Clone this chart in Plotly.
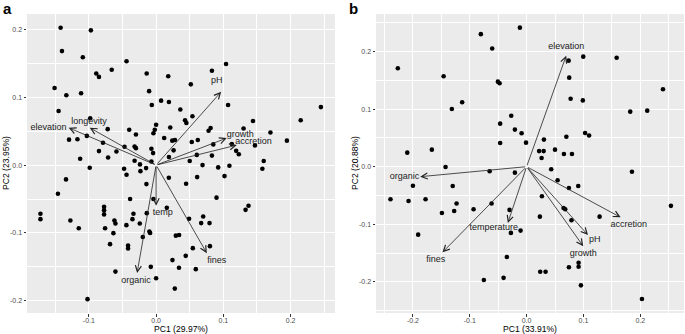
import plotly.graph_objects as go

W, H = 685, 334

# ---------------- Panel a data ----------------
a_pc1 = [-0.142, -0.097, -0.140, -0.109, -0.044, -0.089, -0.085, -0.066, -0.014, 0.018,
         -0.151, -0.1116, -0.1335, -0.0104, -0.0064, 0.0074, 0.019, 0.036, -0.145, -0.098,
         -0.072, -0.040, -0.030, 0.0, -0.002, -0.004, 0.021, 0.012, 0.024, 0.028,
         -0.103, -0.1295, -0.117, -0.079, -0.085, -0.113, -0.0714, -0.059, -0.047, -0.032,
         -0.030, -0.007, -0.0045, -0.032, -0.024, -0.007, 0.019, 0.026,
         0.104, 0.083, 0.0516, 0.107, 0.245, 0.054, 0.043, 0.045, 0.144, 0.215,
         0.081, 0.078, 0.130, 0.170, 0.053, 0.062, 0.085, 0.1126, 0.119, 0.123,
         0.147, 0.1945, 0.0605, 0.083, 0.050, 0.160, 0.069, 0.109,
         -0.0987, -0.0476, -0.044, -0.0233, -0.0149, -0.134, 0.0189, -0.146, -0.0144, -0.0387,
         -0.004, -0.172, -0.172, -0.0774, -0.0774, -0.0774, -0.0337, -0.0139, 0.0159, -0.1275,
         -0.062, -0.0605, -0.0352, -0.0442, -0.0243, -0.115, -0.0759, -0.0635, -0.010, -0.0089,
         -0.0198, 0.0293, 0.0342, -0.0685, -0.0417, -0.0417, 0.0243, 0.034, -0.0079, -0.0605,
         0.0, 0.0278, -0.102,
         0.0923, 0.158, 0.061, 0.1017, 0.0446, 0.0898, 0.133, 0.1374, 0.049, 0.070,
         0.067, 0.0794, 0.0546, 0.080, 0.044, 0.059]
a_pc2 = [0.2025, 0.1986, 0.168, 0.159, 0.153, 0.135, 0.130, 0.1405, 0.135, 0.131,
         0.1136, 0.106, 0.103, 0.109, 0.0885, 0.095, 0.093, 0.082, 0.0797, 0.069,
         0.053, 0.052, 0.045, 0.0594, 0.052, 0.047, 0.0555, 0.040, 0.036, 0.037,
         0.043, 0.0375, 0.038, 0.033, 0.0206, 0.0093, 0.0111, 0.020, 0.027, 0.0275,
         0.025, 0.024, 0.0177, 0.0064, 0.001, 0.0054, 0.012, 0.0217,
         0.149, 0.139, 0.119, 0.0885, 0.0855, 0.072, 0.066, 0.062, 0.065, 0.066,
         0.0546, 0.0506, 0.054, 0.048, 0.034, 0.037, 0.0305, 0.031, 0.021, 0.016,
         0.029, 0.036, 0.015, 0.014, 0.006, 0.006, 0.000, -0.001,
         -0.004, -0.0054, -0.0143, -0.0089, -0.0044, -0.0211, -0.0187, -0.0423, -0.028, -0.050,
         -0.050, -0.0718, -0.0797, -0.0615, -0.0664, -0.0727, -0.0718, -0.0708, -0.063, -0.0816,
         -0.0816, -0.086, -0.0797, -0.0885, -0.086, -0.093, -0.093, -0.1003, -0.098, -0.100,
         -0.106, -0.104, -0.103, -0.1165, -0.1185, -0.123, -0.140, -0.1514, -0.150, -0.157,
         -0.1667, -0.182, -0.1976,
         -0.0034, -0.0054, -0.0177, -0.0162, -0.0275, -0.048, -0.066, -0.060, -0.079, -0.0757,
         -0.0855, -0.0855, -0.1224, -0.1195, -0.1338, -0.1534]

a_vars = ["pH", "growth", "accretion", "elevation", "longevity", "temp", "fines", "organic"]
a_load_x = [0.0967, 0.105, 0.120, -0.130, -0.0987, 0.0, 0.0754, -0.0283]
a_load_y = [0.108, 0.0398, 0.0295, 0.055, 0.055, -0.060, -0.1298, -0.159]
a_lab_x = [0.0903, 0.125, 0.1448, -0.160, -0.0997, 0.010, 0.0903, -0.0298]
a_lab_y = [0.1244, 0.0447, 0.0344, 0.0546, 0.0644, -0.0708, -0.1406, -0.1706]

a_xticks = [-0.1, 0.0, 0.1, 0.2]
a_xtick_text = ["-0.1", "0.0", "0.1", "0.2"]
a_yticks = [-0.2, -0.1, 0.0, 0.1, 0.2]
a_ytick_text = ["-0.2", "-0.1", "0.0", "0.1", "0.2"]
a_xminor = [-0.15, -0.05, 0.05, 0.15, 0.25]
a_yminor = [-0.15, -0.05, 0.05, 0.15]

# ---------------- Panel b data ----------------
b_pc1 = [-0.0118, -0.0805, -0.0605, -0.2266, -0.146, -0.0505, -0.0475, -0.1134, -0.1315, -0.027,
         -0.0465, -0.0206, -0.0088, -0.0465, -0.001, -0.210, -0.1667,
         0.074, 0.0997, 0.1585, 0.075, 0.240, 0.0775, 0.099, 0.1824, 0.2123,
         0.103, 0.110, 0.070, 0.0305, 0.022, 0.030, 0.0264, 0.050, 0.0657, 0.0798,
         -0.1426, -0.065, -0.0206, -0.200, -0.130, -0.2395, -0.2077, -0.1778, -0.1232, -0.0616,
         -0.149, -0.1274, -0.0933, -0.030, -0.1908, -0.0276, -0.0106, -0.0347, -0.0752, -0.0405,
         0.0433, 0.1854, 0.0546, 0.0745, 0.0909, 0.027, 0.254, 0.065, 0.068, 0.0234,
         0.079, 0.1285, 0.024, 0.0334, 0.0745, 0.0915, 0.0915, 0.0956, 0.203]
b_pc2 = [0.2413, 0.230, 0.205, 0.1708, 0.157, 0.1476, 0.1448, 0.1118, 0.100, 0.0885,
         0.0747, 0.0643, 0.058, 0.041, 0.0417, 0.0243, 0.0295,
         0.184, 0.191, 0.189, 0.1545, 0.1343, 0.118, 0.115, 0.0955, 0.0972,
         0.0585, 0.054, 0.052, 0.047, 0.027, 0.027, 0.015, 0.0295, 0.022, 0.022,
         -0.0005, -0.008, -0.0104, -0.033, -0.0335, -0.0566, -0.0596, -0.0566, -0.064, -0.064,
         -0.0804, -0.0769, -0.074, -0.075, -0.118, -0.115, -0.111, -0.1568, -0.1967, -0.193,
         -0.0045, -0.0087, -0.0237, -0.037, -0.0335, -0.0514, -0.068, -0.0717, -0.074, -0.0868,
         -0.093, -0.0868, -0.1823, -0.1823, -0.1747, -0.1667, -0.1736, -0.206, -0.2297]

b_vars = ["elevation", "organic", "temperature", "fines", "accretion", "pH", "growth"]
b_load_x = [0.0697, -0.1873, -0.033, -0.148, 0.1655, 0.108, 0.0997]
b_load_y = [0.1927, -0.0174, -0.0977, -0.1487, -0.088, -0.1186, -0.138]
b_lab_x = [0.0697, -0.2148, -0.0576, -0.160, 0.180, 0.120, 0.0997]
b_lab_y = [0.209, -0.0174, -0.1064, -0.1615, -0.101, -0.126, -0.151]

b_xticks = [-0.2, -0.1, 0.0, 0.1, 0.2]
b_xtick_text = ["-0.2", "-0.1", "0.0", "0.1", "0.2"]
b_yticks = [-0.2, -0.1, 0.0, 0.1, 0.2]
b_ytick_text = ["-0.2", "-0.1", "0.0", "0.1", "0.2"]
b_xminor = [-0.25, -0.15, -0.05, 0.05, 0.15, 0.25]
b_yminor = [-0.25, -0.15, -0.05, 0.05, 0.15, 0.25]

FONT = "Liberation Sans, Arial, Helvetica, sans-serif"
BG = "#EBEBEB"

fig = go.Figure()

fig.add_trace(go.Scatter(x=a_pc1, y=a_pc2, mode="markers", xaxis="x", yaxis="y",
                         marker=dict(size=4.6, color="black"), hoverinfo="skip"))
fig.add_trace(go.Scatter(x=a_lab_x, y=a_lab_y, text=a_vars, mode="text", xaxis="x", yaxis="y",
                         textfont=dict(size=9, color="#222222", family=FONT), hoverinfo="skip"))
fig.add_trace(go.Scatter(x=b_pc1, y=b_pc2, mode="markers", xaxis="x2", yaxis="y2",
                         marker=dict(size=4.6, color="black"), hoverinfo="skip"))
fig.add_trace(go.Scatter(x=b_lab_x, y=b_lab_y, text=b_vars, mode="text", xaxis="x2", yaxis="y2",
                         textfont=dict(size=9, color="#222222", family=FONT), hoverinfo="skip"))

annotations = []
for lx, ly in zip(a_load_x, a_load_y):
    annotations.append(dict(x=lx, y=ly, ax=0, ay=0, xref="x", yref="y", axref="x", ayref="y",
                            text="", showarrow=True, arrowhead=5, arrowsize=1.5,
                            arrowwidth=0.8, arrowcolor="#222222"))
for lx, ly in zip(b_load_x, b_load_y):
    annotations.append(dict(x=lx, y=ly, ax=0, ay=0, xref="x2", yref="y2", axref="x2", ayref="y2",
                            text="", showarrow=True, arrowhead=5, arrowsize=1.5,
                            arrowwidth=0.8, arrowcolor="#222222"))


def px(xp):
    return xp / W


def py(yp):
    return 1 - yp / H


title_font = dict(size=8.6, color="black", family=FONT)
annotations += [
    dict(text="<b>a</b>", x=px(1), y=py(8.5), xref="paper", yref="paper", xanchor="left",
         yanchor="middle", showarrow=False, font=dict(size=15, color="black", family=FONT)),
    dict(text="<b>b</b>", x=px(347), y=py(8.5), xref="paper", yref="paper", xanchor="left",
         yanchor="middle", showarrow=False, font=dict(size=15, color="black", family=FONT)),
    dict(text="PC1 (29.97%)", x=px(181), y=py(329), xref="paper", yref="paper",
         showarrow=False, font=title_font, xanchor="center", yanchor="middle"),
    dict(text="PC1 (33.91%)", x=px(530), y=py(329), xref="paper", yref="paper",
         showarrow=False, font=title_font, xanchor="center", yanchor="middle"),
    dict(text="PC2 (23.95%)", x=px(6), y=py(163), xref="paper", yref="paper", textangle=-90,
         showarrow=False, font=title_font, xanchor="center", yanchor="middle"),
    dict(text="PC2 (20.88%)", x=px(355), y=py(163), xref="paper", yref="paper", textangle=-90,
         showarrow=False, font=title_font, xanchor="center", yanchor="middle"),
]

tick_font = dict(size=7, color="#4D4D4D", family=FONT)


def axis(domain, rng, tickvals, ticktext, minor, anchor, standoff=0):
    return dict(domain=domain, range=rng, tickvals=tickvals, ticktext=ticktext,
                showgrid=True, gridcolor="white", gridwidth=1, zeroline=False,
                showline=False, ticks="outside", ticklen=2.5, tickwidth=0.8,
                tickcolor="#333333", tickfont=tick_font, anchor=anchor, automargin=False,
                ticklabelstandoff=standoff,
                minor=dict(tickvals=minor, showgrid=True, gridcolor="white", gridwidth=0.5,
                           ticks=""),
                fixedrange=True)


fig.update_layout(
    width=W, height=H,
    margin=dict(l=0, r=0, t=0, b=0),
    paper_bgcolor="white",
    plot_bgcolor=BG,
    showlegend=False,
    font=dict(family=FONT),
    xaxis=axis([px(27), px(335)], [-0.192, 0.266], a_xticks, a_xtick_text, a_xminor, "y", -2),
    yaxis=axis([py(313), py(14)], [-0.218, 0.2227], a_yticks, a_ytick_text, a_yminor, "x"),
    xaxis2=axis([px(376), px(684)], [-0.265, 0.277], b_xticks, b_xtick_text, b_xminor, "y2", -2),
    yaxis2=axis([py(313), py(14)], [-0.254, 0.265], b_yticks, b_ytick_text, b_yminor, "x2"),
    annotations=annotations,
)

fig.write_html("out.html", config={"displayModeBar": False},
               post_script="document.body.style.margin='0';document.body.style.overflow='hidden';")
